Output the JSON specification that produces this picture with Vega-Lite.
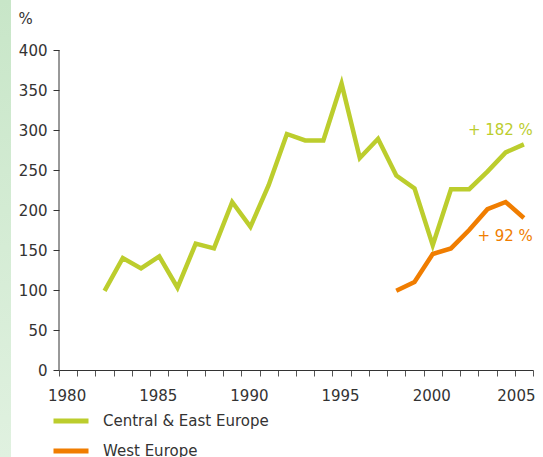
{
  "$schema": "https://vega.github.io/schema/vega-lite/v6.json",
  "padding": 0,
  "background": "white",
  "spacing": 48,
  "bounds": "flush",
  "config": {
    "view": {"stroke": null},
    "font": "DejaVu Sans",
    "axis": {"labelColor": "#333333", "titleColor": "#333333", "domainColor": "#333333", "tickColor": "#555555", "grid": false}
  },
  "datasets": {
    "series": [
      {"year": 1982, "value": 99, "region": "Central & East Europe"},
      {"year": 1983, "value": 140, "region": "Central & East Europe"},
      {"year": 1984, "value": 127, "region": "Central & East Europe"},
      {"year": 1985, "value": 142, "region": "Central & East Europe"},
      {"year": 1986, "value": 103, "region": "Central & East Europe"},
      {"year": 1987, "value": 158, "region": "Central & East Europe"},
      {"year": 1988, "value": 152, "region": "Central & East Europe"},
      {"year": 1989, "value": 210, "region": "Central & East Europe"},
      {"year": 1990, "value": 179, "region": "Central & East Europe"},
      {"year": 1991, "value": 231, "region": "Central & East Europe"},
      {"year": 1992, "value": 295, "region": "Central & East Europe"},
      {"year": 1993, "value": 287, "region": "Central & East Europe"},
      {"year": 1994, "value": 287, "region": "Central & East Europe"},
      {"year": 1995, "value": 358, "region": "Central & East Europe"},
      {"year": 1996, "value": 265, "region": "Central & East Europe"},
      {"year": 1997, "value": 289, "region": "Central & East Europe"},
      {"year": 1998, "value": 243, "region": "Central & East Europe"},
      {"year": 1999, "value": 227, "region": "Central & East Europe"},
      {"year": 2000, "value": 156, "region": "Central & East Europe"},
      {"year": 2001, "value": 226, "region": "Central & East Europe"},
      {"year": 2002, "value": 226, "region": "Central & East Europe"},
      {"year": 2003, "value": 248, "region": "Central & East Europe"},
      {"year": 2004, "value": 272, "region": "Central & East Europe"},
      {"year": 2005, "value": 282, "region": "Central & East Europe"},
      {"year": 1998, "value": 99, "region": "West Europe"},
      {"year": 1999, "value": 110, "region": "West Europe"},
      {"year": 2000, "value": 145, "region": "West Europe"},
      {"year": 2001, "value": 152, "region": "West Europe"},
      {"year": 2002, "value": 175, "region": "West Europe"},
      {"year": 2003, "value": 201, "region": "West Europe"},
      {"year": 2004, "value": 210, "region": "West Europe"},
      {"year": 2005, "value": 190, "region": "West Europe"}
    ],
    "labels": [
      {"year": 2005, "value": 300, "label": "+ 182 %", "region": "Central & East Europe"},
      {"year": 2005, "value": 167, "label": "+ 92 %", "region": "West Europe"}
    ],
    "axisline": [{"year": 1980, "lo": 0, "hi": 400}],
    "band": [{"part": "band"}]
  },
  "hconcat": [
    {
      "width": 11,
      "height": 457,
      "data": {"name": "band"},
      "mark": {
        "type": "rect",
        "color": {
          "gradient": "linear",
          "x1": 0, "y1": 0, "x2": 0, "y2": 1,
          "stops": [
            {"offset": 0, "color": "#c8e6c8"},
            {"offset": 1, "color": "#e0f1e0"}
          ]
        }
      },
      "encoding": {}
    },
    {
      "width": 474,
      "height": 457,
      "encoding": {
        "x": {
          "field": "year",
          "type": "ordinal",
          "scale": {
            "type": "band",
            "domain": [1980, 1981, 1982, 1983, 1984, 1985, 1986, 1987, 1988, 1989, 1990, 1991, 1992, 1993, 1994, 1995, 1996, 1997, 1998, 1999, 2000, 2001, 2002, 2003, 2004, 2005],
            "paddingInner": 0,
            "paddingOuter": 0
          },
          "axis": {
            "title": null,
            "labelAngle": 0,
            "offset": -87,
            "tickBand": "extent",
            "tickSize": 6,
            "labelPadding": 12,
            "labelFontSize": 15,
            "labelExpr": "datum.value % 5 == 0 ? datum.label : ''",
            "labelOffset": {"condition": {"test": "datum.value == 2005", "value": -8}, "value": -1.5}
          }
        }
      },
      "layer": [
        {
          "data": {"name": "axisline"},
          "mark": {"type": "rule", "color": "#333333", "strokeWidth": 1},
          "encoding": {
            "x": {"field": "year", "type": "ordinal", "bandPosition": 0},
            "y": {
              "field": "lo",
              "type": "quantitative",
              "scale": {"domain": [-108.75, 462.5], "nice": false, "zero": false},
              "axis": {
                "values": [0, 50, 100, 150, 200, 250, 300, 350, 400],
                "domain": false,
                "tickSize": 6,
                "tickColor": "#333333",
                "labelPadding": 6,
                "labelFontSize": 15,
                "title": "%",
                "titleAngle": 0,
                "titleFontSize": 15,
                "titleFontWeight": "normal",
                "titleAlign": "left",
                "titleBaseline": "middle",
                "titleX": -41,
                "titleY": 18
              }
            },
            "y2": {"field": "hi"}
          }
        },
        {
          "data": {"name": "series"},
          "mark": {"type": "line", "strokeWidth": 4.5, "strokeJoin": "miter"},
          "encoding": {
            "y": {"field": "value", "type": "quantitative"},
            "color": {
              "field": "region",
              "type": "nominal",
              "scale": {"domain": ["Central & East Europe", "West Europe"], "range": ["#bccd2d", "#f07d00"]},
              "legend": {
                "title": null,
                "orient": "none",
                "legendX": 51,
                "legendY": 401,
                "direction": "vertical",
                "symbolType": "stroke",
                "symbolSize": 1225,
                "symbolStrokeWidth": 5,
                "labelFontSize": 15,
                "labelLimit": 0,
                "labelColor": "#333333",
                "labelOffset": 12,
                "rowPadding": -7
              }
            }
          }
        },
        {
          "data": {"name": "labels"},
          "mark": {"type": "text", "align": "right", "baseline": "middle", "dx": 9, "fontSize": 15},
          "encoding": {
            "y": {"field": "value", "type": "quantitative"},
            "text": {"field": "label"},
            "color": {"field": "region", "type": "nominal", "legend": null}
          }
        }
      ]
    }
  ]
}
